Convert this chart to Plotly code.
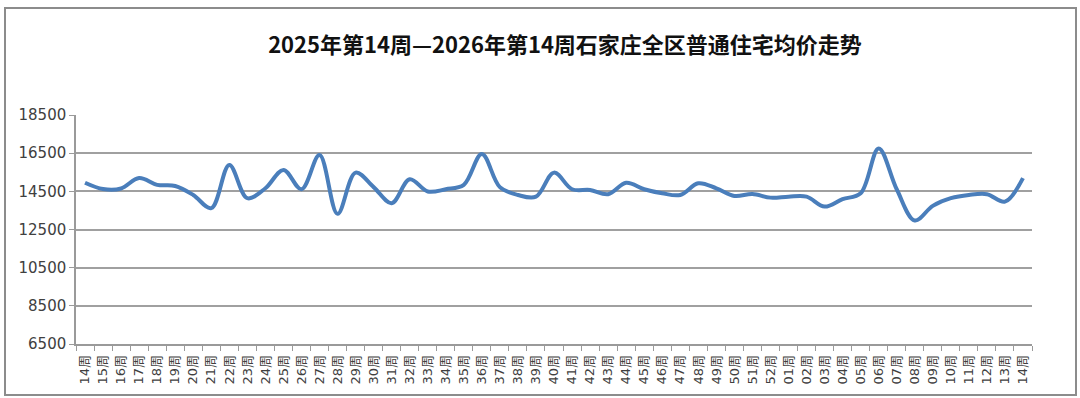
import plotly.graph_objects as go

title = "2025年第14周—2026年第14周石家庄全区普通住宅均价走势"

weeks = (["%02d周" % w for w in range(14, 53)] + ["%02d周" % w for w in range(1, 15)])
prices = [14950, 14620, 14650, 15200, 14840, 14780, 14310, 13620, 15880, 14140,
          14660, 15620, 14610, 16400, 13320, 15480, 14720, 13880, 15130, 14490,
          14610, 14840, 16460, 14720, 14310, 14220, 15480, 14610, 14570, 14350,
          14950, 14610, 14400, 14310, 14920, 14660, 14260, 14360, 14170, 14220,
          14220, 13700, 14090, 14400, 16750, 14610, 12970, 13740, 14140, 14310,
          14350, 13960, 15190]
y_ticks = [6500, 8500, 10500, 12500, 14500, 16500, 18500]

x_idx = list(range(len(weeks)))

fig = go.Figure()
fig.add_trace(go.Scatter(
    x=x_idx, y=prices, mode="lines",
    line=dict(color="#4a7ebb", width=4, shape="spline", smoothing=1.0),
    showlegend=False, hoverinfo="x+y"))

L, R, T, B = 76, 48, 115, 54
W, H = 1080, 398
pw, ph = W - L - R, H - T - B

fig.update_layout(
    width=W, height=H,
    margin=dict(l=L, r=R, t=T, b=B, pad=0),
    paper_bgcolor="white", plot_bgcolor="white",
    title=dict(text=title, x=565 / W, xanchor="center", y=1 - 45 / H, yanchor="middle",
               font=dict(family="Noto Sans CJK SC", size=22, color="#111111", weight="bold")),
    font=dict(family="DejaVu Sans, Noto Sans CJK SC", color="#404040"),
)

fig.update_xaxes(
    range=[-0.5, len(weeks) - 0.5],
    tickmode="array", tickvals=x_idx, ticktext=weeks,
    tickangle=-90, tickfont=dict(size=13, family="DejaVu Sans, Noto Sans CJK SC", color="#404040"),
    ticklabelstandoff=4,
    ticks="", showgrid=False, zeroline=False,
    showline=True, linecolor="#9a9a9a", linewidth=1.5,
    minor=dict(tick0=-0.5, dtick=1, ticks="outside", ticklen=5, tickcolor="#9a9a9a",
               tickwidth=1, showgrid=False),
)
fig.update_yaxes(
    range=[6500, 18500], tickmode="array", tickvals=y_ticks,
    ticktext=[str(v) for v in y_ticks],
    tickfont=dict(size=15, family="DejaVu Sans", color="#404040"),
    ticks="outside", ticklen=5, tickcolor="#9a9a9a",
    showgrid=True, gridcolor="#a0a0a0", gridwidth=1.5, zeroline=False,
    showline=True, linecolor="#9a9a9a", linewidth=1.5,
)

# outer chart border
fig.add_shape(type="rect", xref="paper", yref="paper",
              x0=(5 - L) / pw, x1=(1076 - L) / pw,
              y0=(H - B - 395) / ph, y1=(H - B - 8) / ph,
              line=dict(color="#8c8c8c", width=2), fillcolor="rgba(0,0,0,0)", layer="below")

fig.write_html("out.html")
